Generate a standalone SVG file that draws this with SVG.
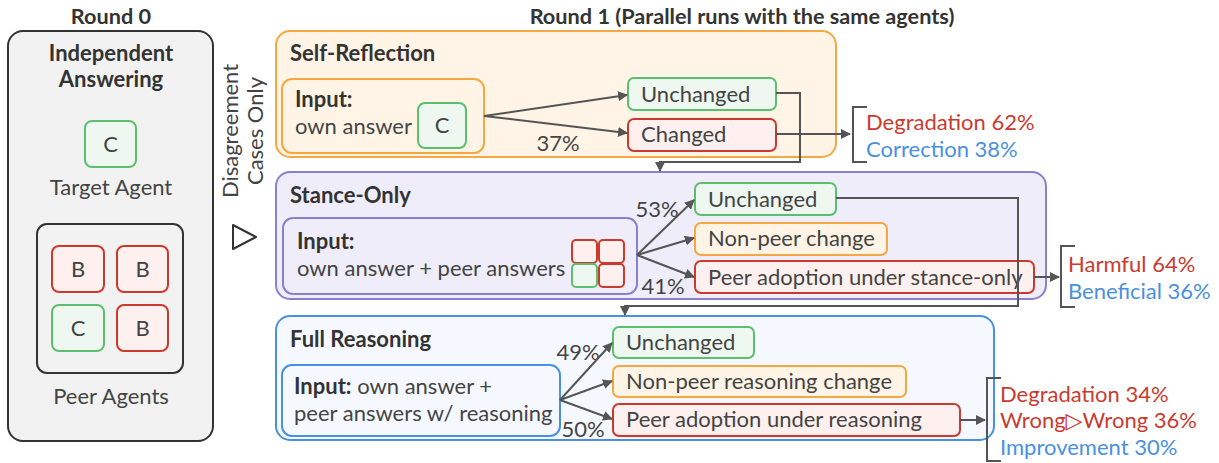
<svg xmlns="http://www.w3.org/2000/svg" width="1219" height="463" viewBox="0 0 1219 463">
<defs>
<marker id="ah" viewBox="0 0 10 10" refX="9" refY="5" markerWidth="5" markerHeight="5" orient="auto" markerUnits="strokeWidth">
<path d="M0,0 L10,5 L0,10 z" fill="#555"/>
</marker>
<style>
text{font-family:Lato,"Noto Sans","DejaVu Sans",sans-serif;fill:#444;font-size:22px}
.b{font-weight:bold;fill:#333}
.ttl{font-weight:bold;fill:#333;font-size:21.7px}
.red{fill:#cc3a2e}
.blue{fill:#4a90e2}
.g{fill:#eef8f0;stroke:#5cbf6f;stroke-width:2}
.r{fill:#fdf0ee;stroke:#cc3a2e;stroke-width:2}
.o{fill:#fff4e6;stroke:#f5a742;stroke-width:2}
.conn{fill:none;stroke:#555;stroke-width:2}
.arr{fill:none;stroke:#555;stroke-width:2;marker-end:url(#ah)}
.brk{fill:none;stroke:#555;stroke-width:2}
</style>
</defs>

<text class="ttl" x="111" y="24" text-anchor="middle">Round 0</text>
<text class="ttl" x="742" y="24" text-anchor="middle">Round 1 (Parallel runs with the same agents)</text>

<g id="round0">
<rect x="8" y="31" width="205" height="410" rx="15" fill="#f2f2f2" stroke="#333" stroke-width="2"/>
<text class="b" x="111" y="61" text-anchor="middle">Independent</text>
<text class="b" x="111" y="87" text-anchor="middle">Answering</text>
<rect class="g" x="85" y="121" width="51" height="46" rx="7"/>
<text x="110.5" y="152" text-anchor="middle">C</text>
<text x="111" y="195" text-anchor="middle">Target Agent</text>
<rect x="37" y="224" width="146" height="149" rx="10" fill="none" stroke="#333" stroke-width="2"/>
<rect class="r" x="52" y="246" width="52" height="46" rx="7"/>
<text x="78" y="277" text-anchor="middle">B</text>
<rect class="r" x="117" y="246" width="51" height="46" rx="7"/>
<text x="142.5" y="277" text-anchor="middle">B</text>
<rect class="g" x="52" y="305" width="52" height="46" rx="7"/>
<text x="78" y="336" text-anchor="middle">C</text>
<rect class="r" x="117" y="305" width="51" height="46" rx="7"/>
<text x="142.5" y="336" text-anchor="middle">B</text>
<text x="111" y="404" text-anchor="middle">Peer Agents</text>
</g>

<g id="disagreement">
<text transform="translate(238,131) rotate(-90)" text-anchor="middle">Disagreement</text>
<text transform="translate(263,131) rotate(-90)" text-anchor="middle">Cases Only</text>
<path d="M233,225 L256,237 L233,249 z" fill="none" stroke="#333" stroke-width="2" stroke-linejoin="round"/>
</g>

<g id="self-reflection">
<rect x="276" y="31" width="560" height="126" rx="14" fill="#fff4e6" stroke="#f5a742" stroke-width="2"/>
<text class="b" x="290" y="61">Self-Reflection</text>
<rect x="282" y="79" width="202" height="74" rx="10" fill="#fff4e6" stroke="#f5a742" stroke-width="2"/>
<text class="b" x="295" y="107">Input:</text>
<text x="295" y="134">own answer</text>
<rect class="g" x="418" y="103" width="48" height="45" rx="7"/>
<text x="442" y="133" text-anchor="middle">C</text>
<text x="558" y="151" text-anchor="middle">37%</text>
</g>
<g id="sr-unchanged">
<rect class="g" x="628" y="78" width="148" height="32" rx="6"/>
<text x="641" y="102">Unchanged</text>
</g>
<g id="sr-changed">
<rect class="r" x="628" y="119" width="148" height="32" rx="6"/>
<text x="641" y="142">Changed</text>
</g>
<g id="sr-outcome">
<path class="brk" d="M867,107 L853,107 L853,162 L867,162"/>
<text class="red" x="866" y="130">Degradation 62%</text>
<text class="blue" x="866" y="157">Correction 38%</text>
</g>

<g id="stance-only">
<rect x="276" y="172" width="770" height="127" rx="14" fill="#efedfa" stroke="#8b7fd0" stroke-width="2"/>
<text class="b" x="290" y="203">Stance-Only</text>
<rect x="283" y="218" width="354" height="76" rx="10" fill="#efedfa" stroke="#8b7fd0" stroke-width="2"/>
<text class="b" x="297" y="249">Input:</text>
<text x="297" y="276">own answer + peer answers</text>
<rect class="r" x="572" y="240" width="25" height="23" rx="4"/>
<rect class="r" x="599" y="240" width="25" height="23" rx="4"/>
<rect class="g" x="572" y="264" width="25" height="23" rx="4"/>
<rect class="r" x="599" y="264" width="25" height="23" rx="4"/>
<text x="657" y="217" text-anchor="middle">53%</text>
<text x="663" y="294" text-anchor="middle">41%</text>
</g>
<g id="so-unchanged">
<rect class="g" x="695" y="183" width="141" height="32" rx="6"/>
<text x="708" y="207">Unchanged</text>
</g>
<g id="so-nonpeer">
<rect class="o" x="695" y="223" width="192" height="32" rx="6"/>
<text x="708" y="246">Non-peer change</text>
</g>
<g id="so-peer">
<rect class="r" x="695" y="261" width="339" height="32" rx="6"/>
<text x="708" y="285">Peer adoption under stance-only</text>
</g>
<g id="so-outcome">
<path class="brk" d="M1075,246 L1061,246 L1061,307 L1075,307"/>
<text class="red" x="1068" y="272">Harmful 64%</text>
<text class="blue" x="1068" y="299">Beneficial 36%</text>
</g>

<g id="full-reasoning">
<rect x="276" y="316" width="718" height="124" rx="14" fill="#f5f9ff" stroke="#4a90e2" stroke-width="2"/>
<text class="b" x="290" y="347">Full Reasoning</text>
<rect x="282" y="365" width="278" height="71" rx="10" fill="#f5f9ff" stroke="#4a90e2" stroke-width="2"/>
<text x="294" y="394"><tspan class="b">Input:</tspan> own answer +</text>
<text x="294" y="421">peer answers w/ reasoning</text>
<text x="578" y="360" text-anchor="middle">49%</text>
<text x="583" y="437" text-anchor="middle">50%</text>
</g>
<g id="fr-unchanged">
<rect class="g" x="613" y="327" width="141" height="31" rx="6"/>
<text x="626" y="350">Unchanged</text>
</g>
<g id="fr-nonpeer">
<rect class="o" x="613" y="366" width="293" height="31" rx="6"/>
<text x="626" y="389">Non-peer reasoning change</text>
</g>
<g id="fr-peer">
<rect class="r" x="613" y="404" width="347" height="32" rx="6"/>
<text x="626" y="427">Peer adoption under reasoning</text>
</g>
<g id="fr-outcome">
<path class="brk" d="M1001,378 L987,378 L987,461 L1001,461"/>
<text class="red" x="1000" y="402">Degradation 34%</text>
<text class="red" x="1000" y="428">Wrong▷Wrong 36%</text>
<text class="blue" x="1000" y="455">Improvement 30%</text>
</g>

<g id="connectors">
<path class="arr" d="M484,116 L627,95"/>
<path class="arr" d="M484,116 L627,133"/>
<path class="arr" d="M776,93 L800,93 L800,162 L660,162 L660,171"/>
<path class="arr" d="M776,134 L850,134"/>
<path class="arr" d="M637,255 L694,200"/>
<path class="arr" d="M637,255 L694,238"/>
<path class="arr" d="M637,255 L694,277"/>
<path class="arr" d="M836,198 L1018,198 L1018,306 L625,306 L625,315"/>
<path class="arr" d="M1034,277 L1059,277"/>
<path class="arr" d="M560,400 L612,343"/>
<path class="arr" d="M560,400 L612,381"/>
<path class="arr" d="M560,400 L612,419"/>
<path class="arr" d="M960,420 L985,420"/>
</g>
</svg>
